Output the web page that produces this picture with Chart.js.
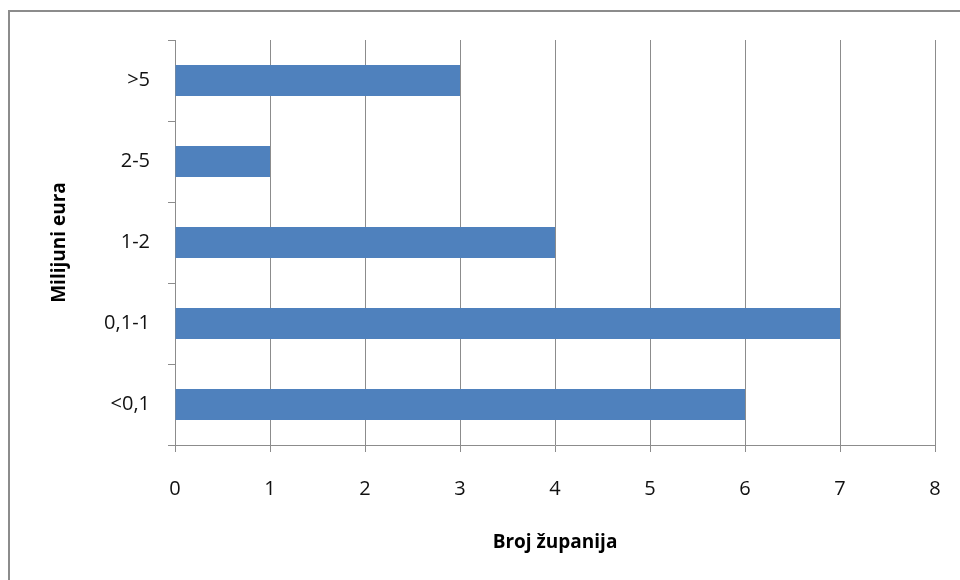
<!DOCTYPE html>
<html>
<head>
<meta charset="utf-8">
<script src="https://cdn.jsdelivr.net/npm/chart.js@4"></script>
<style>
    html, body { margin: 0; padding: 0; background: #fff; overflow: hidden; }
    #wrap { position: relative; width: 960px; height: 580px; }
    #frame { position: absolute; left: 8px; top: 10px; width: 2000px; height: 2000px; border: 2px solid #8c8c8c; box-sizing: border-box; }
    #chart { position: absolute; left: 0; top: 0; }
</style>
</head>
<body>
<div id="wrap">
    <div id="frame"></div>
    <canvas id="chart" width="960" height="580"></canvas>
</div>
<script>
// Data
const categories = [">5", "2-5", "1-2", "0,1-1", "<0,1"];
const counts = [3, 1, 4, 7, 6];
const xTicks = [0, 1, 2, 3, 4, 5, 6, 7, 8];

const FONT = "'Open Sans', 'DejaVu Sans', sans-serif";
const GRID = "#8c8c8c";

const ctx = document.getElementById("chart");
new Chart(ctx, {
    type: "bar",
    data: {
        labels: categories,
        datasets: [{
            data: counts,
            backgroundColor: "#4f81bd",
            borderWidth: 0,
            categoryPercentage: 0.8,
            barPercentage: 0.48
        }]
    },
    options: {
        indexAxis: "y",
        responsive: false,
        animation: false,
        layout: { padding: { left: 0, top: 40, right: 25, bottom: 0 } },
        plugins: { legend: { display: false }, tooltip: { enabled: false } },
        scales: {
            x: {
                min: xTicks[0],
                max: xTicks[xTicks.length - 1],
                afterBuildTicks: s => { s.ticks = xTicks.map(v => ({ value: v })); },
                afterFit: s => { s.height = 135; s.paddingLeft = 0; s.paddingRight = 0; },
                grid: { color: GRID, tickColor: GRID, tickLength: 7, lineWidth: 1 },
                border: { color: GRID },
                ticks: { color: "#111", padding: 25, maxRotation: 0, font: { family: FONT, size: 20 } },
                title: {
                    display: true,
                    text: "Broj županija",
                    color: "#000",
                    font: { family: FONT, size: 19, weight: "bold" },
                    padding: { top: 0, bottom: 26 }
                }
            },
            y: {
                afterFit: s => { s.width = 175; },
                grid: { drawOnChartArea: false, color: GRID, tickColor: GRID, tickLength: 7 },
                border: { color: GRID },
                ticks: { color: "#111", padding: 18, font: { family: FONT, size: 20 } },
                title: {
                    display: true,
                    text: "Milijuni eura",
                    color: "#000",
                    font: { family: FONT, size: 19, weight: "bold" },
                    padding: { top: 48, bottom: 0 }
                }
            }
        }
    }
});
</script>
</body>
</html>
